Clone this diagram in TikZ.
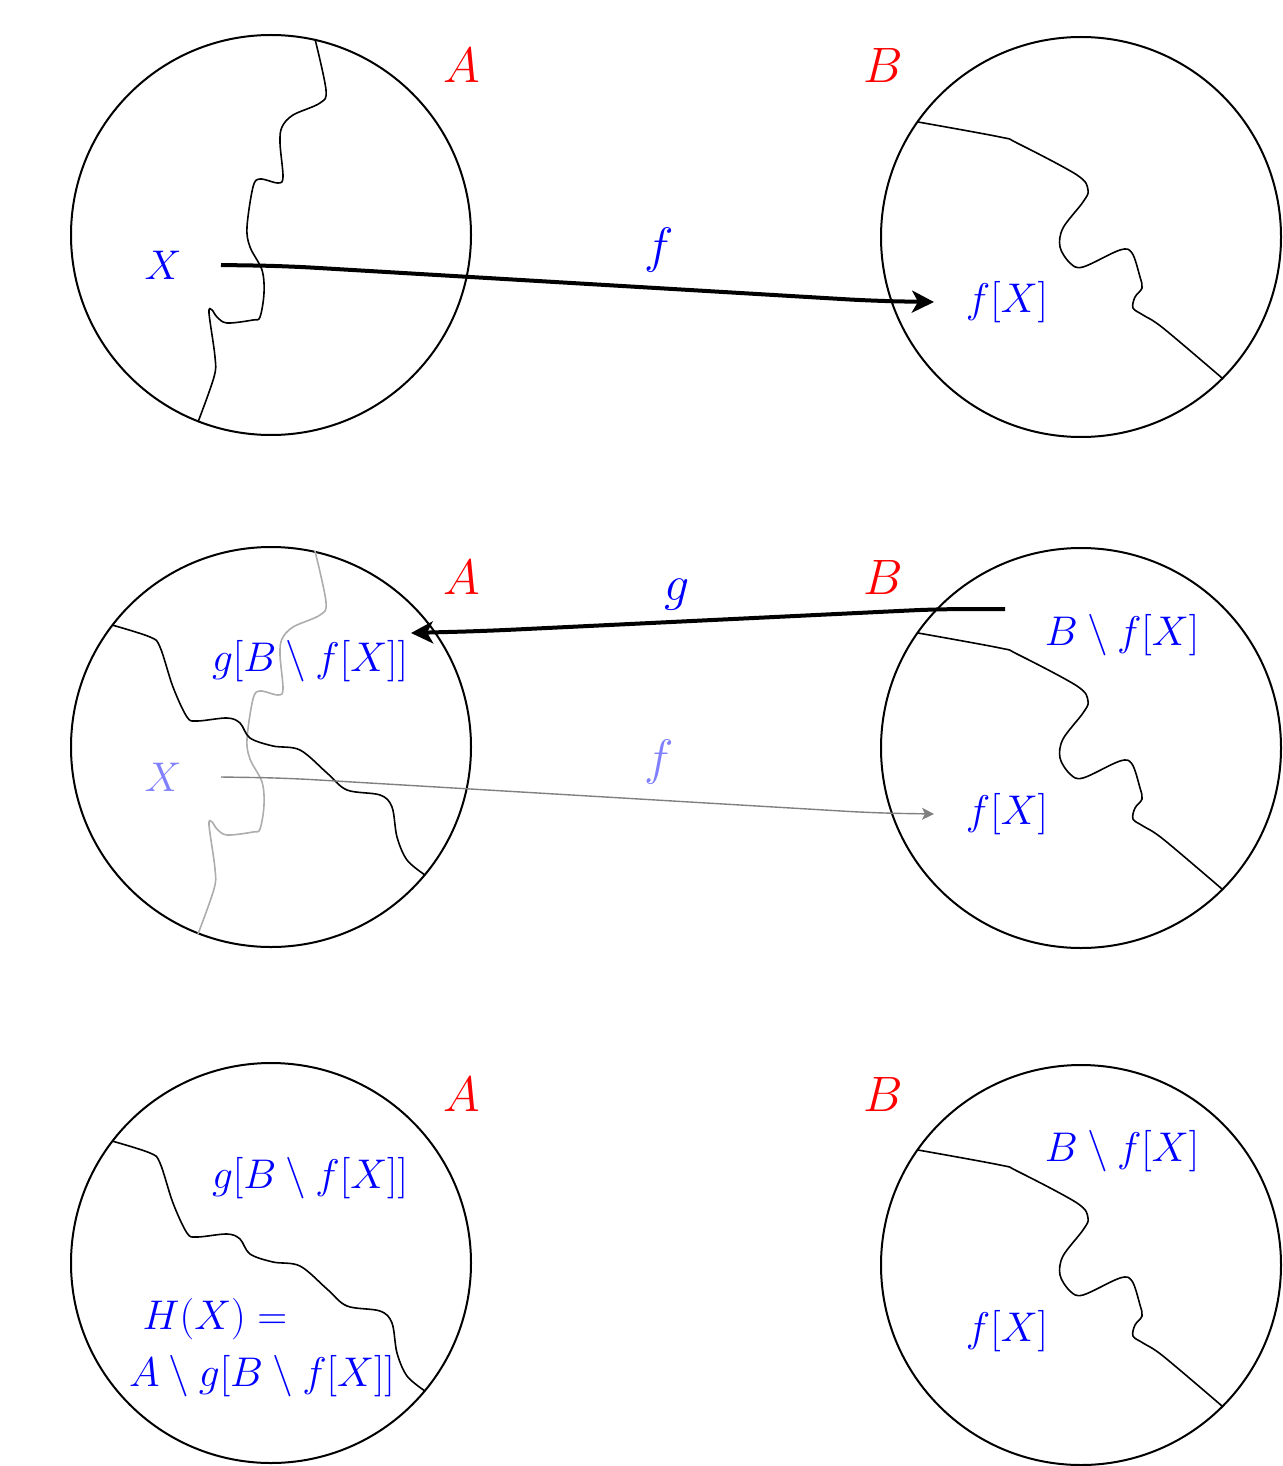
\documentclass[tikz,border=0pt]{standalone}
\usetikzlibrary{arrows.meta}
\begin{document}
\begin{tikzpicture}[x=0.5pt,y=-0.5pt,
  setc/.style={circle,draw,line width=1pt,minimum size=200pt,inner sep=0pt},
  setname/.style={text=red,font=\fontsize{25}{30}\selectfont},
  lab/.style={text=blue,font=\fontsize{19.5}{24}\selectfont,inner sep=0pt},
  fadedlab/.style={text=blue!50,font=\fontsize{19.5}{24}\selectfont,inner sep=0pt},
  maplab/.style={text=blue,font=\fontsize{25}{30}\selectfont,inner sep=0pt},
  fadedmaplab/.style={text=blue!50,font=\fontsize{25}{30}\selectfont,inner sep=0pt},
  wav/.style={line width=0.8pt,smooth,tension=0.55},
  bigarrow/.style={line width=2pt,-{Stealth[length=11pt,width=11pt,inset=3pt]},rounded corners=14pt},
  thinarrow/.style={line width=0.7pt,draw=black!50,-{Stealth[length=6pt,width=6pt,inset=1.5pt]},rounded corners=14pt}]
\useasboundingbox (0,0) rectangle (1282,1466);

% ---- shapes
\def\leftwave{(44,-196) (55,-145) (49,-132) (22,-120) (11,-108) (9,-92) (12,-58) (7,-52) (-11,-56) (-18,-48) (-24,-8) (-21,12) (-9,35) (-7,58) (-11,82) (-18,85) (-44,88) (-54,82) (-59,75) (-62,78) (-56,122) (-57,142) (-73,187)}
\def\rightwave{(-163,-115) (-81,-100) (-64,-94) (-4,-62) (7,-47) (2,-35) (-18,-9) (-21,10) (-11,26) (2,30) (39,13) (51,16) (59,40) (61,51) (54,60) (52,71) (62,78) (82,91) (141,141)}
\def\gwave{(-159,-122) (-121,-110) (-111,-100) (-98,-60) (-84,-30) (-74,-26) (-44,-29) (-31,-24) (-21,-9) (2,-1) (29,3) (56,26) (76,43) (109,48) (121,60) (126,90) (136,113) (154,128)}

% ================= Row 1
\node[setc] (A1) at (271,235) {};
\node[setc] (B1) at (1081,237) {};
\node[setname] (nA1) at (462,66) {$A$};
\node[setname] (nB1) at (883,66) {$B$};
\begin{scope}[shift={(A1.center)}]
  \draw[wav] plot coordinates {\leftwave};
\end{scope}
\begin{scope}[shift={(B1.center)}]
  \draw[wav] plot coordinates {\rightwave};
\end{scope}
\node[lab] (X1) at (163,265) {$X$};
\node[lab] (fX1) at (1007,302) {$f[X]$};
\coordinate (fs1) at (221,265);
\coordinate (fe1) at (934,302);
\draw[bigarrow] (fs1) -- (285,266) -- (875,301) -- (fe1);
\node[maplab] (f1) at (659,250) {$f$};

% ================= Row 2
\node[setc] (A2) at (271,747) {};
\node[setc] (B2) at (1081,748) {};
\node[setname] (nA2) at (462,577) {$A$};
\node[setname] (nB2) at (883,577) {$B$};
\begin{scope}[shift={(A2.center)}]
  \draw[wav,draw=black!32] plot coordinates {\leftwave};
  \draw[wav] plot coordinates {\gwave};
\end{scope}
\begin{scope}[shift={(B2.center)}]
  \draw[wav] plot coordinates {\rightwave};
\end{scope}
\node[fadedlab] (X2) at (163,777) {$X$};
\node[lab] (fX2) at (1007,814) {$f[X]$};
\node[lab] (BfX2) at (1122,635) {$B\setminus f[X]$};
\node[lab] (gB2) at (310,661) {$g[B\setminus f[X]]$};
\coordinate (fs2) at (221,777);
\coordinate (fe2) at (934,814);
\draw[thinarrow] (fs2) -- (285,778) -- (875,813) -- (fe2);
\node[fadedmaplab] (f2) at (659,762) {$f$};
\coordinate (gs2) at (1005,609);
\coordinate (ge2) at (411,633);
\draw[bigarrow] (gs2) -- (940,609) -- (485,631) -- (ge2);
\node[maplab] (g2) at (677,595) {$g$};

% ================= Row 3
\node[setc] (A3) at (271,1263) {};
\node[setc] (B3) at (1081,1265) {};
\node[setname] (nA3) at (462,1094) {$A$};
\node[setname] (nB3) at (883,1094) {$B$};
\begin{scope}[shift={(A3.center)}]
  \draw[wav] plot coordinates {\gwave};
\end{scope}
\begin{scope}[shift={(B3.center)}]
  \draw[wav] plot coordinates {\rightwave};
\end{scope}
\node[lab] (gB3) at (310,1178) {$g[B\setminus f[X]]$};
\node[lab] (H3) at (215,1319) {$H(X) =$};
\node[lab] (H3b) at (262,1376) {$A\setminus g[B\setminus f[X]]$};
\node[lab] (BfX3) at (1122,1151) {$B\setminus f[X]$};
\node[lab] (fX3) at (1007,1331) {$f[X]$};
\end{tikzpicture}
\end{document}
